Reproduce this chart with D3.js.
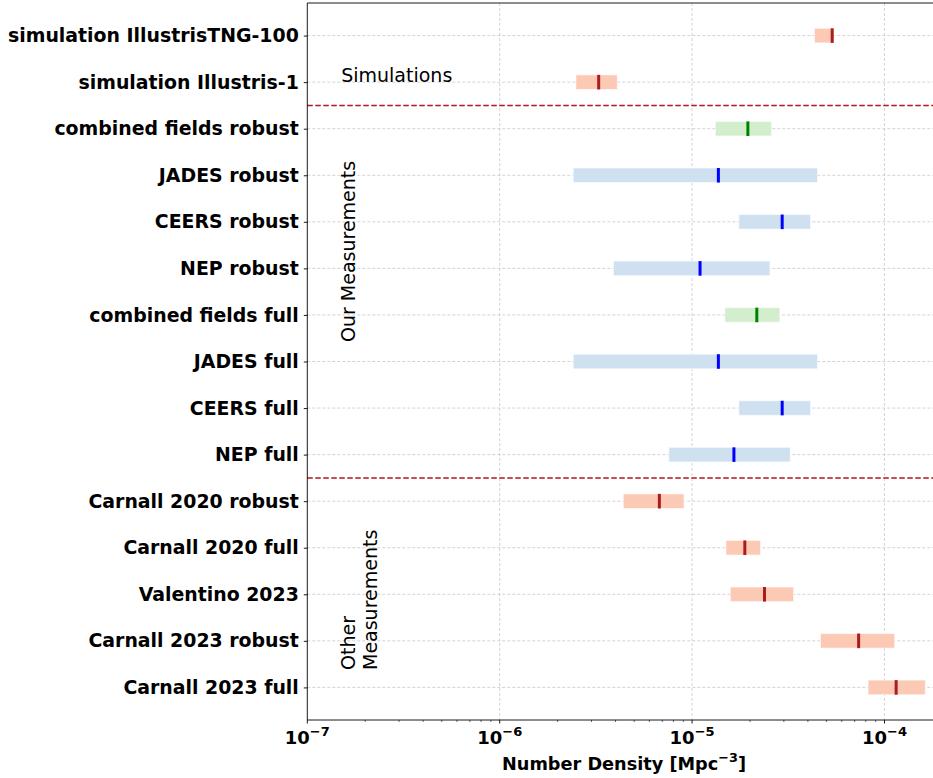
<!DOCTYPE html>
<html>
<head>
<meta charset="utf-8">
<script src="https://cdn.jsdelivr.net/npm/d3@7"></script>
<style>
  html, body { margin: 0; padding: 0; background: #fff; }
  svg { display: block; }
  text { font-family: "DejaVu Sans", sans-serif; }
</style>
</head>
<body>
<svg id="chart" width="933" height="778"></svg>
<script>
// Number density estimates, top row first
const categories = [
  "simulation IllustrisTNG-100",
  "simulation Illustris-1",
  "combined fields robust",
  "JADES robust",
  "CEERS robust",
  "NEP robust",
  "combined fields full",
  "JADES full",
  "CEERS full",
  "NEP full",
  "Carnall 2020 robust",
  "Carnall 2020 full",
  "Valentino 2023",
  "Carnall 2023 robust",
  "Carnall 2023 full"
];
const lowerBound = [4.33e-5, 2.49e-6, 1.32e-5, 2.41e-6, 1.75e-5, 3.90e-6, 1.48e-5, 2.41e-6, 1.75e-5, 7.57e-6, 4.39e-6, 1.50e-5, 1.58e-5, 4.65e-5, 8.22e-5];
const upperBound = [5.44e-5, 4.09e-6, 2.59e-5, 4.49e-5, 4.13e-5, 2.54e-5, 2.86e-5, 4.49e-5, 4.13e-5, 3.24e-5, 9.08e-6, 2.27e-5, 3.37e-5, 1.13e-4, 1.63e-4];
const median     = [5.35e-5, 3.27e-6, 1.95e-5, 1.37e-5, 2.94e-5, 1.10e-5, 2.17e-5, 1.37e-5, 2.94e-5, 1.65e-5, 6.76e-6, 1.88e-5, 2.38e-5, 7.34e-5, 1.15e-4];
const kind       = ["ext", "ext", "comb", "field", "field", "field", "comb", "field", "field", "field", "ext", "ext", "ext", "ext", "ext"];
const xTicks = [1e-7, 1e-6, 1e-5, 1e-4];
const xExponents = ["−7", "−6", "−5", "−4"];
const xDomain = [1e-7, 1.82e-4];

const boxFill  = { ext: "#fcc9b5", comb: "#d3eecd", field: "#cfe1f1" };
const medColor = { ext: "#a81d1d", comb: "#008000", field: "#0000ff" };

const svg = d3.select("#chart");
const plotL = 307.3, plotR = 934.5, plotT = 3, plotB = 720;

const x = d3.scaleLog().domain(xDomain).range([plotL, plotR]);
const y = d3.scalePoint().domain(categories).range([plotT, plotB]).padding(0.7);

const rows = categories.map((c, i) => ({
  name: c, lo: lowerBound[i], hi: upperBound[i], med: median[i], kind: kind[i]
}));

// grid
const grid = svg.append("g");
grid.selectAll("line.gx").data(xTicks.slice(1)).join("line")
  .attr("x1", d => x(d)).attr("x2", d => x(d))
  .attr("y1", plotT).attr("y2", plotB)
  .attr("stroke", "#c8c8c8").attr("stroke-width", 0.8)
  .attr("stroke-dasharray", "3,2");
grid.selectAll("line.gy").data(categories).join("line")
  .attr("x1", plotL).attr("x2", plotR)
  .attr("y1", d => y(d)).attr("y2", d => y(d))
  .attr("stroke", "#c8c8c8").attr("stroke-width", 0.8)
  .attr("stroke-dasharray", "3,2");

// range boxes
const boxH = 14.6;
svg.append("g").selectAll("rect").data(rows).join("rect")
  .attr("x", d => x(d.lo))
  .attr("width", d => x(d.hi) - x(d.lo))
  .attr("y", d => y(d.name) - boxH / 2)
  .attr("height", boxH)
  .attr("fill", d => boxFill[d.kind])
  .attr("stroke", "rgba(255,255,255,0.6)")
  .attr("stroke-width", 1);

// medians
svg.append("g").selectAll("line").data(rows).join("line")
  .attr("x1", d => x(d.med)).attr("x2", d => x(d.med))
  .attr("y1", d => y(d.name) - boxH / 2)
  .attr("y2", d => y(d.name) + boxH / 2)
  .attr("stroke", d => medColor[d.kind])
  .attr("stroke-width", 3);

// section separators
const separators = [
  (y(categories[1]) + y(categories[2])) / 2,
  (y(categories[9]) + y(categories[10])) / 2
];
svg.append("g").selectAll("line").data(separators).join("line")
  .attr("x1", plotL).attr("x2", plotR)
  .attr("y1", d => d).attr("y2", d => d)
  .attr("stroke", "#b01818").attr("stroke-width", 1.5)
  .attr("stroke-dasharray", "5.5,2.5");

// section labels
const tx = x(1.5e-7);
svg.append("text").attr("x", tx).attr("y", 82)
  .attr("font-size", 19).attr("fill", "#000").text("Simulations");
svg.append("text")
  .attr("transform", `translate(${tx + 14},342) rotate(-90)`)
  .attr("font-size", 19).attr("fill", "#000").text("Our Measurements");
const other = svg.append("text")
  .attr("transform", `translate(${tx + 14},670) rotate(-90)`)
  .attr("font-size", 19).attr("fill", "#000");
other.append("tspan").attr("x", 0).attr("y", 0).text("Other");
other.append("tspan").attr("x", 0).attr("y", 22).text("Measurements");

// axes frame
const frame = svg.append("g").attr("stroke", "#000").attr("stroke-width", 0.9);
frame.append("line").attr("x1", plotL).attr("x2", plotL).attr("y1", plotT).attr("y2", plotB);
frame.append("line").attr("x1", plotL).attr("x2", plotR).attr("y1", plotT).attr("y2", plotT);
frame.append("line").attr("x1", plotL).attr("x2", plotR).attr("y1", plotB).attr("y2", plotB);
frame.append("line").attr("x1", plotR).attr("x2", plotR).attr("y1", plotT).attr("y2", plotB);

// y axis
const yAxis = svg.append("g").attr("transform", `translate(${plotL},0)`)
  .call(d3.axisLeft(y).tickSize(3.5).tickPadding(5));
yAxis.select(".domain").remove();
yAxis.selectAll(".tick line").attr("stroke", "#000").attr("stroke-width", 0.9);
yAxis.selectAll(".tick text")
  .attr("font-family", "DejaVu Sans").attr("font-weight", "bold")
  .attr("font-size", 18.9).attr("fill", "#000");

// x axis: minor ticks
const minor = [];
for (let e = -7; e <= -4; e++) {
  for (let m = 2; m <= 9; m++) {
    const v = m * Math.pow(10, e);
    if (v < xDomain[1]) minor.push(v);
  }
}
svg.append("g").selectAll("line").data(minor).join("line")
  .attr("x1", d => x(d)).attr("x2", d => x(d))
  .attr("y1", plotB).attr("y2", plotB + 2)
  .attr("stroke", "#000").attr("stroke-width", 0.6);
svg.append("g").selectAll("line").data(xTicks).join("line")
  .attr("x1", d => x(d)).attr("x2", d => x(d))
  .attr("y1", plotB).attr("y2", plotB + 3.5)
  .attr("stroke", "#000").attr("stroke-width", 0.9);

const xl = svg.append("g").selectAll("text").data(xTicks).join("text")
  .attr("x", d => x(d)).attr("y", 744)
  .attr("text-anchor", "middle")
  .attr("font-weight", "bold").attr("font-size", 18).attr("fill", "#000");
xl.append("tspan").text("10");
xl.append("tspan").attr("dy", -8).attr("font-size", 13).text((d, i) => xExponents[i]);

// x axis title
const title = svg.append("text").attr("x", 624).attr("y", 770)
  .attr("text-anchor", "middle")
  .attr("font-weight", "bold").attr("font-size", 17.7).attr("fill", "#000");
title.append("tspan").text("Number Density [Mpc");
title.append("tspan").attr("dy", -8).attr("font-size", 12.8).text("−3");
title.append("tspan").attr("dy", 8).text("]");
</script>
</body>
</html>
